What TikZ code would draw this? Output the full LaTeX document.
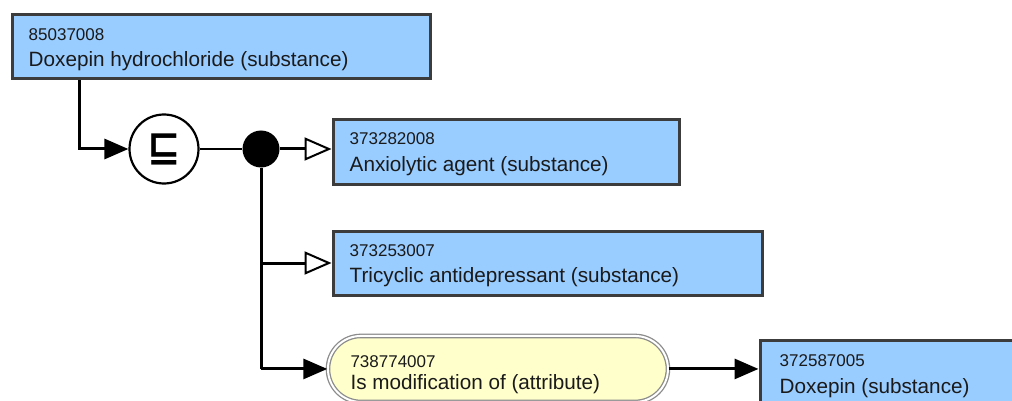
\documentclass[tikz,border=0pt]{standalone}
\usepackage{fontspec}
\setmainfont{Liberation Sans}
\newfontfamily\opfont{DejaVu Sans}
\usetikzlibrary{arrows.meta,positioning,calc}
\definecolor{cpt}{HTML}{99CCFF}
\definecolor{att}{HTML}{FFFFCC}
\definecolor{rim}{HTML}{3C3C3C}
\definecolor{txt}{HTML}{1A1A1A}
\definecolor{dbl}{HTML}{8C8C8C}

\begin{document}
\begin{tikzpicture}[x=1pt,y=-1pt,
  concept/.style={draw=rim,fill=cpt,line width=3pt,minimum height=64pt,
    minimum width=#1,inner sep=0pt,anchor=north west},
  attrib/.style={draw=dbl,double=white,double distance=2pt,line width=1.3pt,
    fill=att,rounded corners=33pt,minimum height=66pt,minimum width=#1,
    inner sep=0pt,anchor=north west},
  idtx/.style={txt,anchor=base west,inner sep=0pt,font=\fontsize{17}{18}\selectfont},
  nametx/.style={txt,anchor=base west,inner sep=0pt,font=\fontsize{20.7}{22}\selectfont},
  link/.style={line width=3pt,black},
  fillhead/.style={-{Triangle[length=24pt,width=20pt]}},
  openhead/.style={-{Triangle[open,fill=white,length=27pt,width=23pt,line width=2pt]}}]
  \useasboundingbox[fill=white] (0,0) rectangle (1012,401);
  \clip (0,0) rectangle (1012,401);

  % concept boxes
  \node[concept=418] (b1) at (10.5,13.5) {};
  \node[concept=346] (b2) at (331.5,118.5) {};
  \node[concept=429] (b3) at (331.5,229.5) {};
  \node[attrib=340] (attr) at (327.3,335.3) {};
  \node[concept=300] (b4) at (758.5,338.5) {};

  \node[idtx] (b1id) at ([shift={(18,27)}]b1.north west) {85037008};
  \node[nametx] (b1nm) at ([shift={(18,53)}]b1.north west) {Doxepin hydrochloride (substance)};
  \node[idtx] (b2id) at ([shift={(18,26)}]b2.north west) {373282008};
  \node[nametx] (b2nm) at ([shift={(18,53)}]b2.north west) {Anxiolytic agent (substance)};
  \node[idtx] (b3id) at ([shift={(18,27)}]b3.north west) {373253007};
  \node[nametx] (b3nm) at ([shift={(18,53)}]b3.north west) {Tricyclic antidepressant (substance)};
  \node[idtx] (attrid) at ([shift={(23,32)}]attr.north west) {738774007};
  \node[nametx] (attrnm) at ([shift={(23,54)}]attr.north west) {Is modification of (attribute)};
  \node[idtx] (b4id) at ([shift={(21,28)}]b4.north west) {372587005};
  \node[nametx] (b4nm) at ([shift={(21,55)}]b4.north west) {Doxepin (substance)};

  % subsumption operator and conjunction dot
  \node[draw,circle,line width=2.2pt,fill=white,minimum size=69pt,inner sep=0pt] (op) at (164,149)
    {\opfont\bfseries\fontsize{40}{40}\selectfont ⊑};
  \node[circle,fill=black,minimum size=37pt,inner sep=0pt] (jn) at (261,149) {};

  % connectors
  \draw[link,fillhead] ([xshift=69]b1.south west) |- (op);
  \draw[line width=2pt] (op) -- (jn);
  \draw[link,openhead] (jn) -- (jn -| b2.west);
  \draw[link] (jn) -- (jn |- attr.west);
  \draw[link,openhead] (jn |- b3.west) -- (b3.west);
  \draw[link,fillhead] (jn |- attr.west) -- (attr.west);
  \draw[link,fillhead] (attr.east) -- (attr.east -| b4.west);
\end{tikzpicture}
\end{document}
